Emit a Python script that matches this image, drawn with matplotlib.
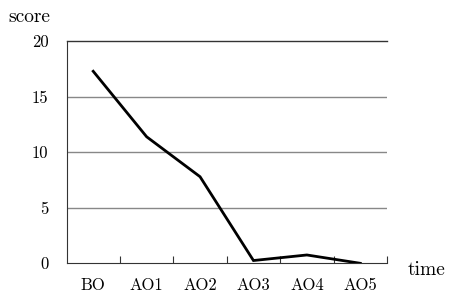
import matplotlib
matplotlib.use("Agg")
import matplotlib.pyplot as plt
import numpy as np

categories = ["BO", "AO1", "AO2", "AO3", "AO4", "AO5"]
scores = [17.3, 11.4, 7.8, 0.25, 0.75, 0.0]
yticks = [0, 5, 10, 15, 20]

plt.rcParams['font.family'] = ['cmr10', 'DejaVu Serif']
plt.rcParams['axes.formatter.use_mathtext'] = True

fig = plt.figure(figsize=(4.5, 2.96), dpi=100)
ax = fig.add_axes([66.5/450, 1 - 263.3/296, (387 - 66.5)/450, (263.3 - 41.3)/296])

x = np.arange(len(categories))
ax.plot(x, scores, color='black', lw=2.0, solid_joinstyle='miter', zorder=3)

ax.set_xlim(-0.5, len(categories) - 0.5)
ax.set_ylim(0, 20)
ax.set_yticks(yticks)
ax.set_yticklabels([str(v) for v in yticks], fontsize=12)
ax.tick_params(axis='y', length=0, pad=13)

ax.set_xticks(x)
ax.set_xticklabels(categories, fontsize=12)
ax.tick_params(axis='x', which='major', length=0, pad=10)
ax.set_xticks(np.arange(len(categories)) + 0.5, minor=True)
ax.tick_params(axis='x', which='minor', direction='in', length=5, width=0.8, color='#333333')

for v in yticks[1:-1]:
    ax.axhline(v, color='#888888', lw=1.0, zorder=1)
ax.axhline(20, color='#333333', lw=1.0, zorder=1, clip_on=False)

ax.spines['right'].set_visible(False)
ax.spines['top'].set_visible(False)
ax.spines['left'].set_color('#333333')
ax.spines['bottom'].set_color('#333333')
ax.spines['left'].set_linewidth(0.8)
ax.spines['bottom'].set_linewidth(0.8)

fig.text(8/450, 1 - 17/296, "score", fontsize=14, ha='left', va='center')
fig.text(408/450, 1 - 270/296, "time", fontsize=14, ha='left', va='center')

fig.savefig("out.png", dpi=100)
